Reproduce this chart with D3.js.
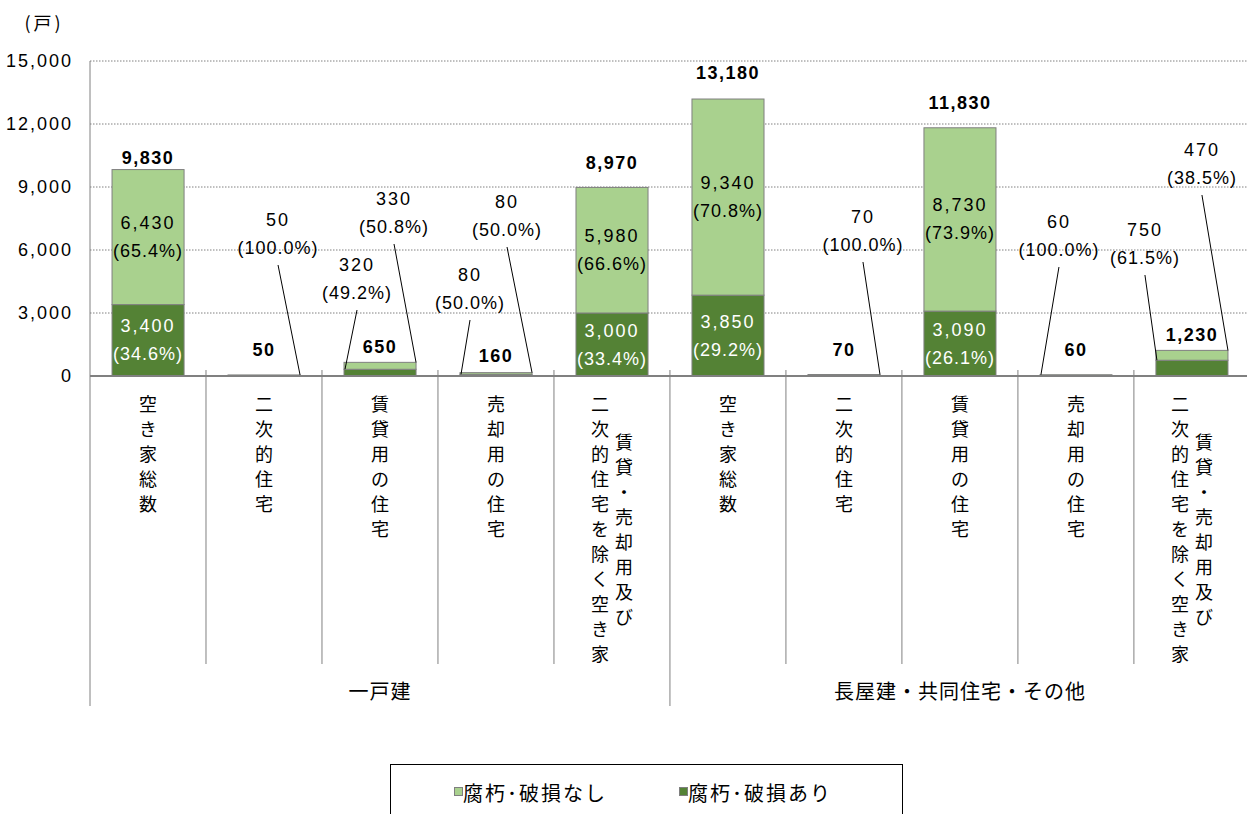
<!DOCTYPE html>
<html>
<head>
<meta charset="utf-8">
<script src="https://cdn.jsdelivr.net/npm/d3@7/dist/d3.min.js"></script>
<style>
  html, body { margin: 0; padding: 0; background: #fff; }
  svg { display: block; }
  .num { font-family: "Liberation Sans", Arial, sans-serif; font-size: 18px; letter-spacing: 1px; }
  .num .v { letter-spacing: 2px; }
  .jp { font-family: "Noto Sans CJK JP", sans-serif; }
</style>
</head>
<body>
<svg id="chart" width="1247" height="814"></svg>
<script>
// Vacant dwellings by building type, split by damage status (戸)
const groups = ["一戸建", "長屋建・共同住宅・その他"];
const categories = [
  ["空き家総数"], ["二次的住宅"], ["賃貸用の住宅"], ["売却用の住宅"],
  ["賃貸・売却用及び", "二次的住宅を除く空き家"],
  ["空き家総数"], ["二次的住宅"], ["賃貸用の住宅"], ["売却用の住宅"],
  ["賃貸・売却用及び", "二次的住宅を除く空き家"]
];
const damaged   = [3400, 0, 320, 80, 3000, 3850, 0, 3090, 0, 750];    // 腐朽・破損あり
const undamaged = [6430, 50, 330, 80, 5980, 9340, 70, 8730, 60, 470]; // 腐朽・破損なし
const totals    = [9830, 50, 650, 160, 8970, 13180, 70, 11830, 60, 1230];
const damagedPct   = [34.6, null, 49.2, 50.0, 33.4, 29.2, null, 26.1, null, 61.5];
const undamagedPct = [65.4, 100.0, 50.8, 50.0, 66.6, 70.8, 100.0, 73.9, 100.0, 38.5];
const yTicks = [0, 3000, 6000, 9000, 12000, 15000];

const seriesNames = { undamaged: "腐朽･破損なし", damaged: "腐朽･破損あり" };
const colors = { undamaged: "#A9D18E", damaged: "#548235" };

// Layout of callouts for segments too thin to hold their labels:
// label offset from the category centre (dx), first-line y, and which bar edge the leader meets.
const callouts = [
  { i: 1, key: "undamaged", dx: 14,  y: 220, edge: "right" },
  { i: 2, key: "damaged",   dx: -23, y: 265, edge: "left" },
  { i: 2, key: "undamaged", dx: 14,  y: 199, edge: "right" },
  { i: 3, key: "damaged",   dx: -26, y: 275, edge: "left" },
  { i: 3, key: "undamaged", dx: 11,  y: 202, edge: "right" },
  { i: 6, key: "undamaged", dx: 19,  y: 217, edge: "right" },
  { i: 8, key: "undamaged", dx: -17, y: 222, edge: "left" },
  { i: 9, key: "damaged",   dx: -47, y: 230, edge: "left" },
  { i: 9, key: "undamaged", dx: 10,  y: 150, edge: "right" }
];
// Extra lift of each total label above its bar
const totalLift = [12, 25, 15, 17, 25, 26, 25, 25, 25, 15];

const svg = d3.select("#chart");
const plotLeft = 90, plotRight = 1250, plotTop = 61, plotBottom = 376;

const x = d3.scaleBand().domain(d3.range(categories.length)).range([plotLeft, plotRight])
  .paddingInner(0.379).paddingOuter(0.19);
const step = x.step();
const y = d3.scaleLinear().domain([0, 15000]).range([plotBottom, plotTop]);
const fmt = d3.format(",");
const pct = v => "(" + v.toFixed(1) + "%)";

// gridlines
svg.append("g").selectAll("line").data(yTicks.filter(d => d > 0)).join("line")
  .attr("x1", plotLeft).attr("x2", plotRight)
  .attr("y1", d => y(d)).attr("y2", d => y(d))
  .attr("stroke", "#808080").attr("stroke-width", 1).attr("stroke-dasharray", "1.5,1.5");

// y axis labels
const yAxis = d3.axisLeft(y).tickValues(yTicks).tickFormat(fmt).tickSize(0).tickPadding(17);
const ya = svg.append("g").attr("transform", `translate(${plotLeft},0)`).call(yAxis);
ya.select(".domain").remove();
ya.attr("font-size", null).attr("font-family", null);
ya.selectAll("text")
  .style("font-family", "'Liberation Sans', Arial, sans-serif")
  .style("font-size", "18px").style("letter-spacing", "2px")
  .attr("fill", "#000");

// stacked bars
const stackData = categories.map((c, i) => ({ i, damaged: damaged[i], undamaged: undamaged[i] }));
const stack = d3.stack().keys(["damaged", "undamaged"])(stackData);
svg.append("g").selectAll("g").data(stack).join("g")
  .attr("fill", s => colors[s.key])
  .selectAll("rect").data(s => s.filter(d => d[1] > d[0])).join("rect")
  .attr("x", d => x(d.data.i)).attr("width", x.bandwidth())
  .attr("y", d => y(d[1])).attr("height", d => y(d[0]) - y(d[1]))
  .attr("stroke", "#7f7f7f").attr("stroke-width", 1);

// category axis: baseline, separators, labels
svg.append("line").attr("x1", plotLeft).attr("x2", plotRight).attr("y1", plotBottom).attr("y2", plotBottom)
  .attr("stroke", "#808080").attr("stroke-width", 2);
svg.append("line").attr("x1", plotLeft).attr("x2", plotLeft).attr("y1", plotTop).attr("y2", 706)
  .attr("stroke", "#808080").attr("stroke-width", 1);
const seps = d3.range(1, categories.length + 1);
svg.append("g").selectAll("line").data(seps).join("line")
  .attr("x1", d => plotLeft + d * step).attr("x2", d => plotLeft + d * step)
  .attr("y1", plotBottom - 6).attr("y2", d => d % 5 === 0 ? 706 : 664)
  .attr("stroke", "#808080").attr("stroke-width", 1);

const pitch = 25;
const catG = svg.append("g").attr("class", "jp").style("font-size", "18px").attr("fill", "#000");
categories.forEach((cols, i) => {
  const cx = x(i) + x.bandwidth() / 2;
  const longest = d3.max(cols, c => c.length);
  const midY = 403 + (longest - 1) * pitch / 2;
  // vertical writing: first column on the right
  cols.forEach((col, k) => {
    const colX = cx + (cols.length - 1) * 12 - k * 24;
    const startY = midY - (col.length - 1) * pitch / 2;
    Array.from(col).forEach((ch, j) => {
      catG.append("text").attr("x", colX).attr("y", startY + j * pitch)
        .attr("text-anchor", "middle").attr("dominant-baseline", "central").text(ch);
    });
  });
});

svg.append("g").attr("class", "jp").style("font-size", "20px").style("letter-spacing", "1px")
  .selectAll("text").data(groups).join("text")
  .attr("x", (d, g) => plotLeft + (g * 5 + 2.5) * step).attr("y", 690)
  .attr("text-anchor", "middle").attr("dominant-baseline", "central").text(d => d);

svg.append("text").attr("class", "jp").style("font-size", "18px").style("letter-spacing", "3px")
  .attr("x", 44).attr("y", 22)
  .attr("text-anchor", "middle").attr("dominant-baseline", "central").text("(戸)");

// value labels inside wide segments
const lblG = svg.append("g").attr("class", "num");
const calloutSet = new Set(callouts.map(c => c.i + c.key));
stack.forEach(s => {
  s.forEach(d => {
    const i = d.data.i, v = d.data[s.key];
    if (v <= 0 || calloutSet.has(i + s.key)) return;
    const p = s.key === "damaged" ? damagedPct[i] : undamagedPct[i];
    const cx = x(i) + x.bandwidth() / 2, cy = (y(d[0]) + y(d[1])) / 2;
    const fill = s.key === "damaged" ? "#fff" : "#000";
    lblG.append("text").attr("class", "v").attr("x", cx).attr("y", cy - 14).attr("text-anchor", "middle")
      .attr("dominant-baseline", "central").attr("fill", fill).text(fmt(v));
    lblG.append("text").attr("x", cx).attr("y", cy + 14).attr("text-anchor", "middle")
      .attr("dominant-baseline", "central").attr("fill", fill).text(pct(p));
  });
});

// callouts with leader lines
callouts.forEach(c => {
  const s = stack.find(t => t.key === c.key);
  const seg = s[c.i];
  const v = c.key === "damaged" ? damaged[c.i] : undamaged[c.i];
  const p = c.key === "damaged" ? damagedPct[c.i] : undamagedPct[c.i];
  const lx = x(c.i) + x.bandwidth() / 2 + c.dx;
  lblG.append("text").attr("class", "v").attr("x", lx).attr("y", c.y).attr("text-anchor", "middle")
    .attr("dominant-baseline", "central").text(fmt(v));
  lblG.append("text").attr("x", lx).attr("y", c.y + 28).attr("text-anchor", "middle")
    .attr("dominant-baseline", "central").text(pct(p));
  const ex = c.edge === "left" ? x(c.i) + 1 : x(c.i) + x.bandwidth();
  svg.append("line").attr("x1", lx).attr("y1", c.y + 45).attr("x2", ex).attr("y2", y(seg[1]))
    .attr("stroke", "#000").attr("stroke-width", 1);
});

// totals
svg.append("g").attr("class", "num").attr("font-weight", "bold").style("letter-spacing", "1.5px")
  .selectAll("text").data(totals).join("text")
  .attr("x", (d, i) => x(i) + x.bandwidth() / 2)
  .attr("y", (d, i) => y(d) - totalLift[i])
  .attr("text-anchor", "middle").attr("dominant-baseline", "central").text(d => fmt(d));

// legend
const lg = svg.append("g");
lg.append("rect").attr("x", 390.5).attr("y", 764.5).attr("width", 512).attr("height", 60)
  .attr("fill", "#fff").attr("stroke", "#000").attr("stroke-width", 1);
[["undamaged", 454], ["damaged", 679]].forEach(([k, lx]) => {
  lg.append("rect").attr("x", lx + 0.5).attr("y", 787.5).attr("width", 8).attr("height", 8)
    .attr("fill", colors[k]).attr("stroke", "#7f7f7f").attr("stroke-width", 1);
  lg.append("text").attr("class", "jp").style("font-size", "20px").style("letter-spacing", "2px")
    .attr("x", lx + 9).attr("y", 792)
    .attr("dominant-baseline", "central").text(seriesNames[k]);
});
</script>
</body>
</html>
